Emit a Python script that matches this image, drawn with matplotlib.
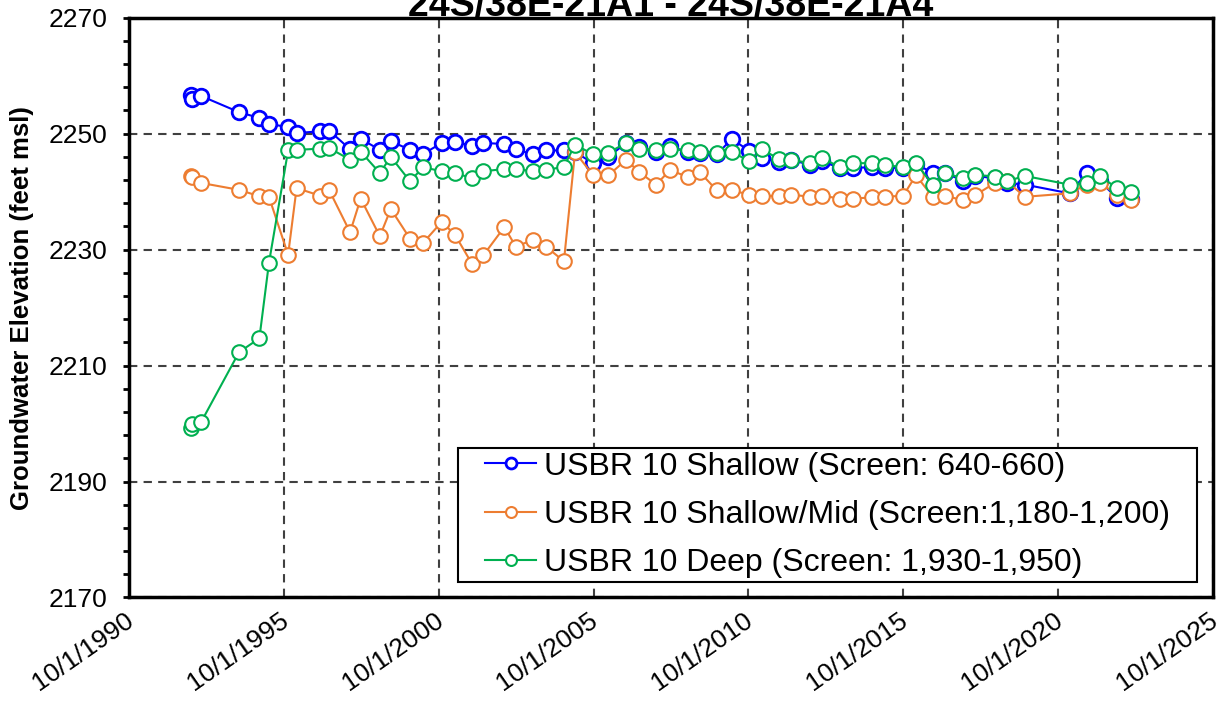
import matplotlib
matplotlib.use('Agg')  # no UI backend
import matplotlib.pyplot as plt
import matplotlib.transforms as mtransforms
from matplotlib.patches import Rectangle
from matplotlib.ticker import FixedLocator
import numpy as np

plt.rcParams['font.family'] = ['Liberation Sans', 'DejaVu Sans']

# sample dates (shared by all three wells)
dates = ['1992-09-27', '1992-10-15', '1993-01-26', '1994-04-20', '1994-12-16',
         '1995-04-08', '1995-11-20', '1996-02-28', '1996-12-01', '1997-03-20',
         '1997-11-20', '1998-03-25', '1998-11-06', '1999-03-15', '1999-10-27',
         '2000-04-01', '2000-11-06', '2001-04-12', '2001-10-30', '2002-03-10',
         '2002-11-14', '2003-03-28', '2003-10-20', '2004-03-18', '2004-10-16',
         '2005-02-24', '2005-09-27', '2006-03-25', '2006-10-20', '2007-03-20',
         '2007-10-08', '2008-03-20', '2008-10-23', '2009-03-10', '2009-09-24',
         '2010-03-18', '2010-10-12', '2011-03-10', '2011-09-27', '2012-02-14',
         '2012-09-27', '2013-02-14', '2013-09-16', '2014-02-20', '2014-10-01',
         '2015-02-28', '2015-10-01', '2016-02-28', '2016-09-13', '2017-02-06',
         '2017-09-02', '2018-01-30', '2018-09-16', '2019-02-03', '2019-09-06',
         '2021-02-14', '2021-09-02', '2022-02-06', '2022-08-25', '2023-02-03']

shallow = [2256.7, 2255.9, 2256.5, 2253.7, 2252.7, 2251.7, 2251.1, 2250.1, 2250.4, 2250.5,
           2247.3, 2249.1, 2247.2, 2248.7, 2247.2, 2246.5, 2248.4, 2248.6, 2247.9, 2248.4,
           2248.2, 2247.3, 2246.4, 2247.1, 2247.1, 2246.8, 2244.9, 2246.0, 2248.4, 2247.7,
           2246.8, 2247.8, 2246.8, 2246.6, 2246.4, 2249.1, 2247.0, 2245.8, 2245.1, 2245.5,
           2244.6, 2245.2, 2244.1, 2244.1, 2244.2, 2244.1, 2244.1, 2244.8, 2243.2, 2243.2,
           2241.9, 2242.7, 2242.3, 2241.5, 2241.2, 2239.7, 2243.2, 2241.8, 2238.9, 2238.7]

shallow_mid = [2242.7, 2242.5, 2241.5, 2240.3, 2239.2, 2239.1, 2229.1, 2240.6, 2239.3, 2240.2,
               2233.0, 2238.8, 2232.3, 2237.0, 2231.9, 2231.2, 2234.8, 2232.5, 2227.5, 2229.0,
               2233.9, 2230.5, 2231.7, 2230.5, 2228.0, 2246.8, 2242.8, 2242.8, 2245.5, 2243.4,
               2241.2, 2243.7, 2242.5, 2243.3, 2240.2, 2240.2, 2239.5, 2239.3, 2239.2, 2239.5,
               2239.1, 2239.3, 2238.8, 2238.8, 2239.0, 2239.1, 2239.3, 2242.8, 2239.1, 2239.3,
               2238.5, 2239.4, 2241.5, 2241.8, 2239.1, 2239.7, 2241.2, 2241.5, 2239.5, 2238.6]

deep = [2199.3, 2200.0, 2200.2, 2212.3, 2214.7, 2227.7, 2247.1, 2247.2, 2247.4, 2247.5,
        2245.5, 2246.9, 2243.2, 2246.0, 2241.8, 2244.2, 2243.5, 2243.2, 2242.3, 2243.5,
        2243.9, 2243.9, 2243.5, 2243.7, 2244.3, 2248.1, 2246.4, 2246.7, 2248.4, 2247.4,
        2247.2, 2247.3, 2247.1, 2246.9, 2246.7, 2246.9, 2245.2, 2247.3, 2245.6, 2245.5,
        2244.9, 2245.8, 2244.2, 2244.9, 2244.9, 2244.6, 2244.2, 2244.9, 2241.2, 2243.2,
        2242.3, 2242.9, 2242.6, 2241.8, 2242.7, 2241.2, 2241.5, 2242.7, 2240.6, 2239.9]

labels = ['USBR 10 Shallow (Screen: 640-660)',
          'USBR 10 Shallow/Mid (Screen:1,180-1,200)',
          'USBR 10 Deep (Screen: 1,930-1,950)']
colors = ['#0000FF', '#ED7D31', '#00B050']
tick_years = [1990, 1995, 2000, 2005, 2010, 2015, 2020, 2025]
y_ticks = [2170, 2190, 2210, 2230, 2250, 2270]

x = np.array(dates, dtype='datetime64[D]')

fig = plt.figure(figsize=(12.21, 7.06), dpi=100)
ax = fig.add_axes([0.1057, 0.1537, 0.8877, 0.8213])

series = [shallow, shallow_mid, deep]
for vals, lab, col, mew in zip(series, labels, colors, [2.0, 1.5, 1.5]):
    ax.plot(x, vals, '-o', color=col, lw=1.5, ms=10.5, mfc='white',
            mec=col, mew=mew, label=lab)

ticks = [np.datetime64('%d-10-01' % y) for y in tick_years]
ax.set_xticks(ticks)
ax.set_xticklabels(['10/1/%d' % y for y in tick_years], rotation=35,
                   ha='right', va='top', rotation_mode='anchor', fontsize=19)
ax.set_xlim(ticks[0], ticks[-1])
ax.tick_params(axis='x', length=0, pad=7.5)
shift = mtransforms.ScaledTranslation(-0.05, 0, fig.dpi_scale_trans)
for lbl in ax.get_xticklabels():
    lbl.set_transform(lbl.get_transform() + shift)

ax.set_ylim(2170, 2270)
ax.yaxis.set_major_locator(FixedLocator(y_ticks))
ax.yaxis.set_minor_locator(FixedLocator(np.arange(2170, 2271, 4)))
ax.tick_params(axis='y', which='major', length=4.5, width=2, labelsize=19,
               direction='out', pad=11)
ax.tick_params(axis='y', which='minor', length=4.5, width=2, direction='out')

ax.grid(True, which='major', color='#404040', ls=(0, (4, 3)), lw=1.5)
for s in ax.spines.values():
    s.set_linewidth(2.5)

ax.set_ylabel('Groundwater Elevation (feet msl)', fontsize=18.5, fontweight='bold')
ax.yaxis.set_label_coords(-0.088, 0.5)

fig.text(0.549, 0.977, '24S/38E-21A1 - 24S/38E-21A4', ha='center', va='baseline',
         fontsize=27, fontweight='bold')

# legend: frameless, then a box with wider side padding drawn behind it
padx = 0.021
leg = ax.legend(loc='lower right', bbox_to_anchor=(0.985 - padx, 0.027), fontsize=23,
                frameon=False, markerscale=0.75, borderaxespad=0,
                handlelength=1.6, handletextpad=0.25, labelspacing=0.57, borderpad=0.12)
leg.set_zorder(6)
fig.canvas.draw()
bb = leg.get_window_extent().transformed(ax.transAxes.inverted())
ax.add_patch(Rectangle((bb.x0 - padx, bb.y0), bb.width + 2 * padx, bb.height,
                       transform=ax.transAxes, facecolor='white', edgecolor='black',
                       lw=1.5, zorder=5.5))

plt.savefig('out.png', dpi=100)
